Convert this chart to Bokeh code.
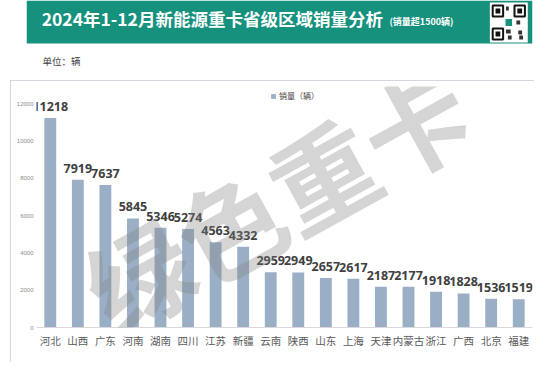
from bokeh.plotting import figure
from bokeh.models import Range1d, FixedTicker, Label, LabelSet, ColumnDataSource
from bokeh.layouts import column
from bokeh.embed import file_html
from bokeh.resources import INLINE
from bokeh.core.properties import value

# ---- data ----
provinces = ["河北", "山西", "广东", "河南", "湖南", "四川", "江苏", "新疆", "云南",
             "陕西", "山东", "上海", "天津", "内蒙古", "浙江", "广西", "北京", "福建"]
sales = [11218, 7919, 7637, 5845, 5346, 5274, 4563, 4332, 2959,
         2949, 2657, 2617, 2187, 2177, 1918, 1828, 1536, 1519]
y_ticks = [0, 2000, 4000, 6000, 8000, 10000, 12000]
title_text = "2024年1-12月新能源重卡省级区域销量分析"
subtitle_text = "(销量超1500辆)"
unit_text = "单位：辆"
series_name = "销量（辆）"
watermark_text = "绿色重卡"

CJK = "Noto Sans CJK SC"
GREEN = "#16917e"
BAR = "#9aafc5"

# ---- header ----
W = 534
HH = 80
hdr = figure(width=W, height=HH, x_range=Range1d(0, W), y_range=Range1d(HH, 0),
             output_backend="svg", toolbar_location=None, x_axis_type=None,
             y_axis_type=None, min_border=0, outline_line_color=None)
hdr.grid.visible = False
hdr.quad(left=[0], right=[W], top=[0], bottom=[43], fill_color=GREEN, line_color=None)
hdr.text(x=[16], y=[18], text=[title_text], text_font=value(CJK), text_font_style="bold",
         text_font_size="17.5px", text_color="white", text_baseline="middle")
hdr.text(x=[383], y=[21], text=[subtitle_text], text_font=value(CJK), text_font_style="bold",
         text_font_size="9px", text_color="white", text_baseline="middle")
# QR code placeholder (decoration)
hdr.quad(left=[489], right=[529], top=[2], bottom=[42], fill_color="white", line_color=None)
hdr.quad(left=[492, 515, 492], right=[503, 526, 503], top=[5, 5, 28], bottom=[16, 16, 39],
         fill_color="white", line_color="#111111", line_width=2)
hdr.quad(left=[495, 518, 495], right=[500, 523, 500], top=[8, 8, 31], bottom=[13, 13, 36],
         fill_color="#111111", line_color=None)
hdr.quad(left=[506, 517, 506, 519, 508, 520], right=[509, 521, 511, 523, 512, 524],
         top=[6, 20, 29, 30, 35, 35], bottom=[10, 24, 33, 34, 39, 39],
         fill_color="#333333", line_color=None)
hdr.quad(left=[505], right=[513], top=[18], bottom=[26], fill_color=GREEN, line_color="white")
hdr.text(x=[17], y=[60], text=[unit_text], text_font=value(CJK), text_font_size="9.5px",
         text_color="#404040", text_baseline="middle")

# ---- main chart ----
src = ColumnDataSource(dict(province=provinces, sales=sales,
                            label=[str(v) for v in sales]))

p = figure(width=524, height=282, x_range=provinces, y_range=Range1d(0, 12911),
           output_backend="svg", toolbar_location=None,
           min_border_left=26, min_border_right=2, min_border_top=6, min_border_bottom=35,
           outline_line_color=None, margin=(0, 0, 0, 10),
           styles={"outline": "1px solid #c3cbd2", "outline-offset": "-1px"})
p.vbar(x="province", top="sales", width=0.43, source=src, fill_color=BAR,
       line_color=None, legend_label=series_name)
labels = LabelSet(x="province", y="sales", text="label", source=src, text_align="center",
                  text_baseline="alphabetic", y_offset=7, text_font=value("Open Sans"),
                  text_font_style="bold", text_font_size="12.5px", text_color="#404040")
p.add_layout(labels)

p.xgrid.visible = False
p.ygrid.visible = False

p.xaxis.axis_line_color = "#d9d9d9"
p.xaxis.major_tick_line_color = None
p.xaxis.minor_tick_line_color = None
p.xaxis.major_tick_out = 0
p.xaxis.major_tick_in = 0
p.xaxis.major_label_text_font = CJK
p.xaxis.major_label_text_font_size = "10.5px"
p.xaxis.major_label_text_color = "#595959"
p.xaxis.major_label_standoff = 5

p.yaxis.ticker = FixedTicker(ticks=y_ticks)
p.yaxis.axis_line_color = None
p.yaxis.major_tick_line_color = None
p.yaxis.minor_tick_line_color = None
p.yaxis.major_tick_out = 0
p.yaxis.major_tick_in = 0
p.yaxis.major_label_text_font_size = "6px"
p.yaxis.major_label_text_color = "#8c8c8c"
p.yaxis.major_label_standoff = 3

lg = p.legend[0]
lg.location = (234, 226)
lg.background_fill_alpha = 0
lg.border_line_color = None
lg.label_text_font = CJK
lg.label_text_font_size = "8px"
lg.label_text_color = "#404040"
lg.glyph_width = 6
lg.glyph_height = 6
lg.label_height = 10
lg.label_standoff = 3
lg.padding = 2
lg.margin = 0
lg.spacing = 0

wm = Label(x=239, y=130, x_units="screen", y_units="screen", text=watermark_text,
           angle=29, angle_units="deg", text_font=CJK, text_font_style="bold",
           text_font_size="105px", text_color="#7f7f7f", text_alpha=0.33,
           text_align="center", text_baseline="middle")
p.add_layout(wm)

layout = column(hdr, p, spacing=0)
open("out.html", "w").write(file_html(layout, INLINE))
